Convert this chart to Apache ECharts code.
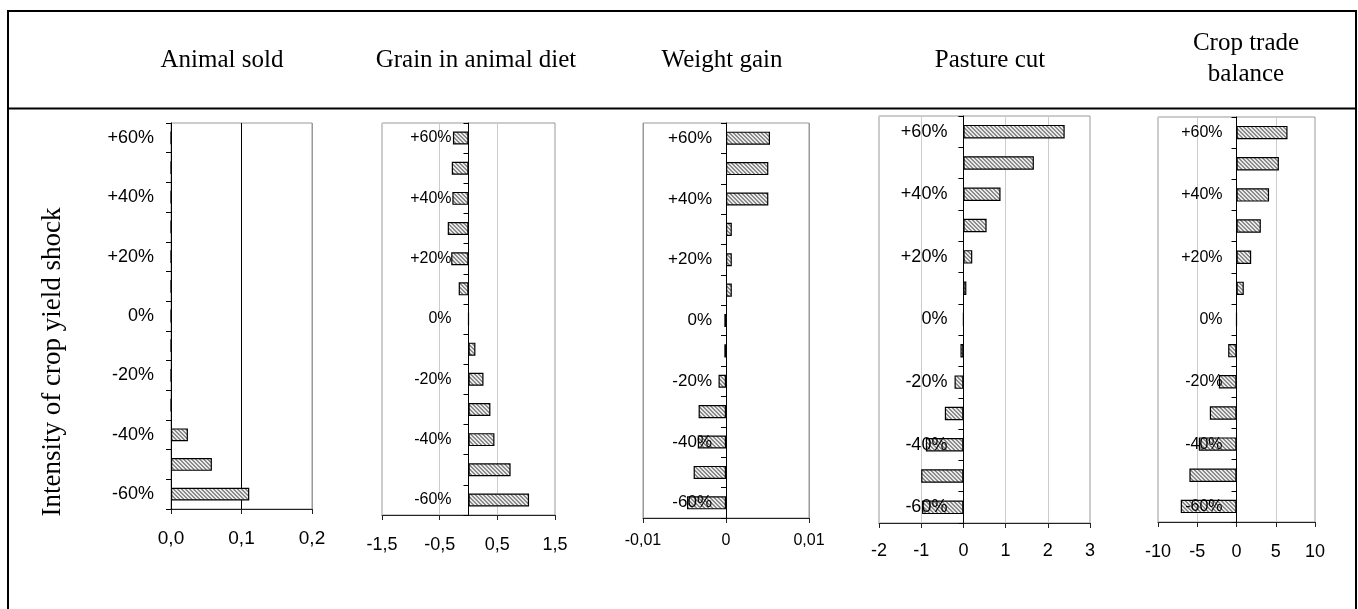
<!DOCTYPE html>
<html><head><meta charset="utf-8">
<script src="https://cdn.jsdelivr.net/npm/echarts@6/dist/echarts.min.js"></script>
<style>html,body{margin:0;padding:0;background:#fff}#c{width:1358px;height:609px}</style>
</head><body><div id="c"></div>
<script>
// ---- data ----
const categories = ['+60%','+50%','+40%','+30%','+20%','+10%','0%','-10%','-20%','-30%','-40%','-50%','-60%'];
const panelTitles = ['Animal sold','Grain in animal diet','Weight gain','Pasture cut','Crop trade\nbalance'];
const animalSold = [0,0,0,0,0,0,0,0,0,0,0.024,0.058,0.111];
const grainDiet  = [-0.27,-0.29,-0.28,-0.36,-0.30,-0.17,0,0.12,0.26,0.38,0.45,0.73,1.05];
const weightGain = [0.0053,0.0051,0.0051,0.0007,0.0007,0.0007,-0.0002,-0.0002,-0.0009,-0.0033,-0.0034,-0.0039,-0.0047];
const pastureCut = [2.40,1.67,0.88,0.55,0.21,0.07,0,-0.07,-0.21,-0.44,-0.89,-1.00,-0.98];
const cropTrade  = [6.5,5.4,4.15,3.1,1.87,0.93,0,-1.06,-2.25,-3.4,-4.8,-6.0,-7.1];
const xTicksAnimal  = ['0,0','0,1','0,2'];
const xTicksGrain   = ['-1,5','-0,5','0,5','1,5'];
const xTicksWeight  = ['-0,01','0','0,01'];
const xTicksPasture = ['-2','-1','0','1','2','3'];
const xTicksCrop    = ['-10','-5','0','5','10'];
const yTitle = 'Intensity of crop yield shock';

// ---- pattern ----
function makePattern(){
  const n = 4, c = document.createElement('canvas');
  c.width = n; c.height = n;
  const ctx = c.getContext('2d');
  const img = ctx.createImageData(n, n);
  for (let y = 0; y < n; y++) for (let x = 0; x < n; x++) {
    const d = (((x - y) % n) + n) % n;
    const v = d < 2 ? 0x8c : 0xea;
    const i = (y * n + x) * 4;
    img.data[i] = v; img.data[i+1] = v; img.data[i+2] = v; img.data[i+3] = 255;
  }
  ctx.putImageData(img, 0, 0);
  return c;
}
const pattern = { image: makePattern(), repeat: 'repeat' };

// ---- layout ----
const panels = [
  { data: animalSold, ticks: xTicksAnimal, min: 0, max: 0.2, interval: 0.1,
    grid: {left: 171, top: 123, width: 141, height: 386}, yFs: 18, xFs: 19, yM: 17, xM: 20,
    split: ['#999','#000','#999'] },
  { data: grainDiet, ticks: xTicksGrain, min: -1.5, max: 1.5, interval: 1,
    grid: {left: 382, top: 123, width: 173, height: 392}, yFs: 16, xFs: 18, yM: 17, xM: 21,
    split: ['#ccc'] },
  { data: weightGain, ticks: xTicksWeight, min: -0.01, max: 0.01, interval: 0.01,
    grid: {left: 643, top: 123, width: 166, height: 395}, yFs: 17, xFs: 16, yM: 14, xM: 15,
    split: ['#999'] },
  { data: pastureCut, ticks: xTicksPasture, min: -2, max: 3, interval: 1,
    grid: {left: 879, top: 116, width: 211, height: 407}, yFs: 18, xFs: 18, yM: 16, xM: 19,
    split: ['#ccc'] },
  { data: cropTrade, ticks: xTicksCrop, min: -10, max: 10, interval: 5,
    grid: {left: 1158, top: 117, width: 157, height: 405}, yFs: 16, xFs: 18, yM: 14, xM: 21,
    split: ['#ccc'] }
];

const grids = [], xAxes = [], yAxes = [], series = [];
panels.forEach((p, i) => {
  grids.push(Object.assign({ show: true, borderColor: '#999', borderWidth: 1, backgroundColor: 'transparent', containLabel: false }, p.grid));
  xAxes.push({
    type: 'value', gridIndex: i, min: p.min, max: p.max, interval: p.interval,
    axisLine: { show: true, onZero: false, lineStyle: { color: '#222', width: 1 } },
    axisTick: { show: true, length: 5, inside: false, lineStyle: { color: '#222' } },
    axisLabel: { show: true, margin: p.xM, fontSize: p.xFs, color: '#000', fontFamily: '"Liberation Sans", Arial, sans-serif',
      formatter: (v, idx) => p.ticks[idx] !== undefined ? p.ticks[idx] : '' },
    splitLine: { show: true, lineStyle: { color: p.split, width: 1 } }
  });
  // category axis sits where the value axis crosses zero
  const zeroShift = p.grid.width * (0 - p.min) / (p.max - p.min);
  yAxes.push({
    type: 'category', gridIndex: i, data: categories, inverse: true, z: 5,
    position: 'left', offset: -zeroShift,
    axisLine: { show: true, onZero: false, lineStyle: { color: '#000', width: 1 } },
    axisTick: { show: true, interval: 0, length: 5, inside: false, alignWithLabel: false, lineStyle: { color: '#000' } },
    axisLabel: { show: true, interval: 1, margin: p.yM, fontSize: p.yFs, color: '#000', fontFamily: '"Liberation Sans", Arial, sans-serif' },
    splitLine: { show: false }
  });
  series.push({
    type: 'bar', xAxisIndex: i, yAxisIndex: i, data: p.data, barWidth: '43%',
    itemStyle: { color: pattern, borderColor: '#000', borderWidth: 1.2 },
    emphasis: { disabled: true }, silent: true
  });
});

const titleX = [222, 476, 722, 990, 1246];
const graphic = [
  { type: 'line', shape: { x1: 8, y1: 11, x2: 8, y2: 620 }, style: { stroke: '#000', lineWidth: 2 } },
  { type: 'line', shape: { x1: 1356, y1: 11, x2: 1356, y2: 620 }, style: { stroke: '#000', lineWidth: 2 } },
  { type: 'line', shape: { x1: 7, y1: 11, x2: 1357, y2: 11 }, style: { stroke: '#000', lineWidth: 2 } },
  { type: 'line', shape: { x1: 7, y1: 108.5, x2: 1357, y2: 108.5 }, style: { stroke: '#000', lineWidth: 2 } },
  { type: 'text', x: 53, y: 362, rotation: Math.PI / 2,
    style: { text: yTitle, font: '27px "Liberation Serif", "Times New Roman", serif', fill: '#000', textAlign: 'center', textVerticalAlign: 'middle' } }
];
panelTitles.forEach((t, i) => {
  graphic.push({ type: 'text', x: titleX[i], y: t.indexOf('\n') >= 0 ? 59 : 60,
    style: { text: t, font: '25px "Liberation Serif", "Times New Roman", serif', fill: '#000', textAlign: 'center', textVerticalAlign: 'middle', lineHeight: 31 } });
});

const chart = echarts.init(document.getElementById('c'), null, { renderer: 'canvas', width: 1358, height: 609 });
chart.setOption({
  animation: false,
  backgroundColor: '#fff',
  grid: grids, xAxis: xAxes, yAxis: yAxes, series: series, graphic: graphic
});
</script>
</body></html>
